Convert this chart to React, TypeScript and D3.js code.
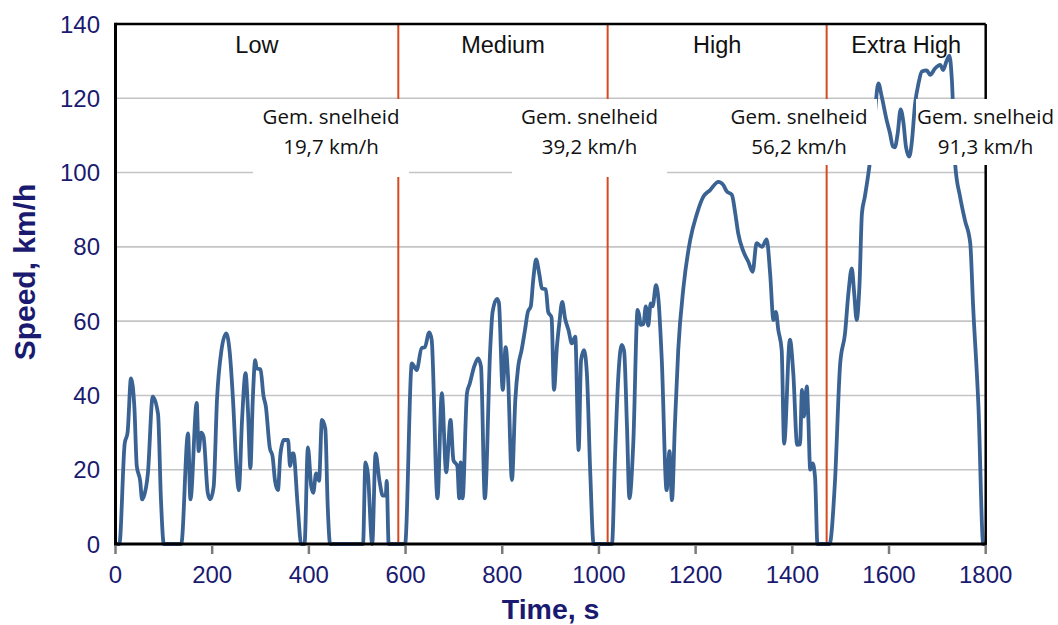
import React from "react";
import * as d3 from "d3";

// ---- data ----
const lowPhase: [number, number][] = [
  [0, 0], [8, 0], [19, 27], [25, 30], [32, 44.6], [39, 37], [44, 21], [51, 17], [55, 12], [58, 12.6],
  [67, 19], [77, 39.7], [88, 35], [94, 12], [100, 0], [136, 0], [150, 29.8], [155, 12], [168, 38],
  [172, 25], [177, 30], [182, 29], [191, 13.6], [196, 12], [203, 15.4], [210, 39], [219, 52], [229, 56.7],
  [236, 52], [243, 39], [250, 21], [255, 14.5], [262, 34], [269, 46], [274, 36], [279, 20.4], [284, 39],
  [289, 49.5], [292, 47.3], [300, 47], [306, 40], [311, 37], [319, 26], [325, 23.5], [330, 17], [336, 14.5],
  [341, 24], [348, 28], [357, 28], [361, 21], [366, 24.4], [368, 24.4], [377, 10], [384, 0], [391, 0],
  [398, 26], [405, 15.4], [409, 13.8], [415, 19], [421, 17], [427, 33.4], [434, 31], [439, 10], [444, 0],
  [512, 0], [517, 22], [522, 19], [531, 0], [538, 24.4], [546, 17], [553, 13], [559, 13], [561, 17], [565, 0],
];
const mediumPhase: [number, number][] = [
  [589, 0], [599, 0], [613, 48.6], [620, 47.3], [623, 46.8], [633, 52.7], [640, 53], [649, 57], [654, 55],
  [666, 12.3], [675, 40.6], [684, 19.3], [693, 33.4], [699, 22.6], [707, 21], [711, 12.3], [714, 22],
  [718, 12.3], [727, 40.6], [733, 43.3], [742, 47.8], [750, 50], [756, 47.8], [764, 12.3], [775, 52.2],
  [780, 62.5], [789, 66], [793, 65], [801, 41.5], [807, 53], [812, 45], [820, 17.2], [827, 38.8],
  [833, 47.8], [840, 52.2], [847, 57.6], [853, 62.5], [859, 64], [864, 71], [870, 76.6], [877, 72.4],
  [882, 68.8], [890, 68.6], [895, 62.5], [902, 61], [907, 41.5], [913, 53], [918, 59.4], [924, 65.2],
  [930, 60.7], [937, 57.6], [944, 54], [951, 55.8], [958, 25.3], [963, 49.5], [969, 52.2], [975, 46],
  [982, 19.3], [989, 0],
];
const highPhase: [number, number][] = [
  [1027, 0], [1033, 22.6], [1040, 45], [1047, 53.6], [1052, 52], [1058, 31.6], [1063, 12.3], [1071, 27],
  [1080, 63], [1084, 61], [1086, 59], [1092, 59.2], [1097, 64], [1102, 58.8], [1107, 64.8], [1111, 64],
  [1118, 69.7], [1123, 66], [1130, 49.5], [1140, 14.5], [1146, 25], [1151, 11.8], [1157, 31.6], [1164, 52.2],
  [1175, 69.3], [1189, 82], [1202, 88.6], [1216, 93.5], [1230, 95.3], [1247, 97.5], [1257, 96.7], [1264, 95],
  [1275, 94], [1282, 89], [1288, 83.7], [1299, 78.7], [1309, 76], [1318, 73.3], [1326, 81], [1337, 80],
  [1347, 82], [1354, 73], [1361, 60.3], [1366, 62.5], [1371, 57.6], [1378, 52.2], [1383, 27], [1395, 55],
  [1402, 46], [1410, 26.7], [1416, 26.8], [1420, 41.5], [1424, 34.3], [1430, 42.4], [1433, 34.3], [1437, 20],
  [1442, 21.7], [1447, 18], [1452, 0],
];
const extraHighPhase: [number, number][] = [
  [1477, 0], [1488, 16.3], [1499, 48.6], [1509, 56.7], [1516, 67.5], [1523, 74.2], [1528, 67.5], [1533, 60.3],
  [1539, 70], [1544, 89], [1550, 93.5], [1561, 103.4], [1570, 115], [1578, 124], [1585, 120.4], [1595, 114.2],
  [1602, 110.6], [1608, 107], [1612, 106.8], [1618, 110.6], [1624, 117], [1630, 113.3], [1635, 107],
  [1642, 104.3], [1647, 108], [1654, 118.6], [1661, 124], [1668, 127.2], [1678, 127.5], [1685, 126.3],
  [1695, 128], [1706, 129], [1712, 127.6], [1719, 130], [1725, 131.5], [1730, 125], [1737, 102], [1747, 93.5],
  [1757, 87.2], [1768, 81], [1774, 64], [1785, 37], [1795, 0], [1800, 0],
];

const phaseNames = ["Low", "Medium", "High", "Extra High"];
const phaseBoundaries = [585, 1018, 1471];
const avgTitle = "Gem. snelheid";
const avgSpeeds = ["19,7 km/h", "39,2 km/h", "56,2 km/h", "91,3 km/h"];
const xTicks = [0, 200, 400, 600, 800, 1000, 1200, 1400, 1600, 1800];
const yTicks = [0, 20, 40, 60, 80, 100, 120, 140];
const xTitle = "Time, s";
const yTitle = "Speed, km/h";

const W = 1058;
const H = 625;

export default function App() {
  const x = d3.scaleLinear().domain([0, 1800]).range([115.5, 985.7]);
  const y = d3.scaleLinear().domain([0, 140]).range([544, 24]);
  const data = [...lowPhase, ...mediumPhase, ...highPhase, ...extraHighPhase];
  const line = d3
    .line<[number, number]>()
    .x((d) => x(d[0]))
    .y((d) => y(d[1]))
    .curve(d3.curveMonotoneX);

  const navy = "#1a1a70";
  const edges = [0, ...phaseBoundaries, 1800];
  const phaseCenters = edges.slice(0, -1).map((e, i) => (e + edges[i + 1]) / 2);

  // annotation boxes (layout in pixels)
  const boxes = [
    { x0: 253, x1: 409, y0: 99, y1: 177, cx: 331 },
    { x0: 512, x1: 667, y0: 99, y1: 177, cx: 589.5 },
    { x0: 720, x1: 877, y0: 99, y1: 165, cx: 799 },
    { x0: 916, x1: 1058, y0: 99, y1: 165, cx: 985.5 },
  ];

  return (
    <svg
      width={W}
      height={H}
      style={{ position: "absolute", left: 0, top: 0, background: "#fff" }}
    >
      <rect x={0} y={0} width={W} height={H} fill="#fff" />
      {/* gridlines */}
      {yTicks
        .filter((t) => t > 0 && t < 140)
        .map((t) => (
          <line key={t} x1={x(0)} x2={x(1800)} y1={y(t)} y2={y(t)} stroke="#c4c4c4" strokeWidth={1.6} />
        ))}
      {/* phase dividers */}
      {phaseBoundaries.map((b) => (
        <line key={b} x1={x(b)} x2={x(b)} y1={y(140)} y2={y(0)} stroke="#d64a1f" strokeWidth={2} />
      ))}
      {/* phase names */}
      {phaseNames.map((n, i) => (
        <text
          key={n}
          x={x(phaseCenters[i])}
          y={53}
          textAnchor="middle"
          fontFamily="'Liberation Sans', Arial, sans-serif"
          fontSize={23.5}
          fill="#111"
        >
          {n}
        </text>
      ))}
      {/* speed trace */}
      <path d={line(data) || ""} fill="none" stroke="#3a6394" strokeWidth={3.8} strokeLinejoin="round" />
      {/* frame */}
      <line x1={x(0)} x2={x(1800)} y1={y(140)} y2={y(140)} stroke="#000" strokeWidth={2.5} />
      <line x1={x(1800)} x2={x(1800)} y1={y(140)} y2={y(0)} stroke="#000" strokeWidth={2.5} />
      <line x1={x(0)} x2={x(0)} y1={y(140) - 1.2} y2={y(0) + 1.5} stroke="#000" strokeWidth={3} />
      <line x1={x(0) - 1.5} x2={x(1800) + 1.2} y1={y(0)} y2={y(0)} stroke="#000" strokeWidth={3} />
      {/* x ticks */}
      {xTicks.map((t) => (
        <line key={t} x1={x(t)} x2={x(t)} y1={y(0) + 1.5} y2={y(0) + 10} stroke="#7a7a7a" strokeWidth={2.5} />
      ))}
      {xTicks.map((t) => (
        <text
          key={t}
          x={x(t)}
          y={583}
          textAnchor="middle"
          fontFamily="'Liberation Sans', Arial, sans-serif"
          fontSize={24}
          fill={navy}
        >
          {t}
        </text>
      ))}
      {yTicks.map((t) => (
        <text
          key={t}
          x={100}
          y={y(t) + 8.5}
          textAnchor="end"
          fontFamily="'Liberation Sans', Arial, sans-serif"
          fontSize={24}
          fill={navy}
        >
          {t}
        </text>
      ))}
      {/* axis titles */}
      <text
        x={x(900)}
        y={619}
        textAnchor="middle"
        fontFamily="'Liberation Sans', Arial, sans-serif"
        fontWeight="bold"
        fontSize={28.5}
        fill={navy}
      >
        {xTitle}
      </text>
      <text
        transform={`translate(35, 272) rotate(-90)`}
        textAnchor="middle"
        fontFamily="'Liberation Sans', Arial, sans-serif"
        fontWeight="bold"
        fontSize={30}
        fill={navy}
      >
        {yTitle}
      </text>
      {/* average speed boxes */}
      {boxes.map((b, i) => (
        <g key={i}>
          <rect x={b.x0} y={b.y0} width={b.x1 - b.x0} height={b.y1 - b.y0} fill="#fff" />
          <text
            x={b.cx}
            y={123.5}
            textAnchor="middle"
            fontFamily="'Open Sans', 'Noto Sans', sans-serif"
            fontSize={20.5}
            fill="#111"
          >
            {avgTitle}
          </text>
          <text
            x={b.cx}
            y={153.5}
            textAnchor="middle"
            fontFamily="'Open Sans', 'Noto Sans', sans-serif"
            fontSize={20.5}
            fill="#111"
          >
            {avgSpeeds[i]}
          </text>
        </g>
      ))}
    </svg>
  );
}
